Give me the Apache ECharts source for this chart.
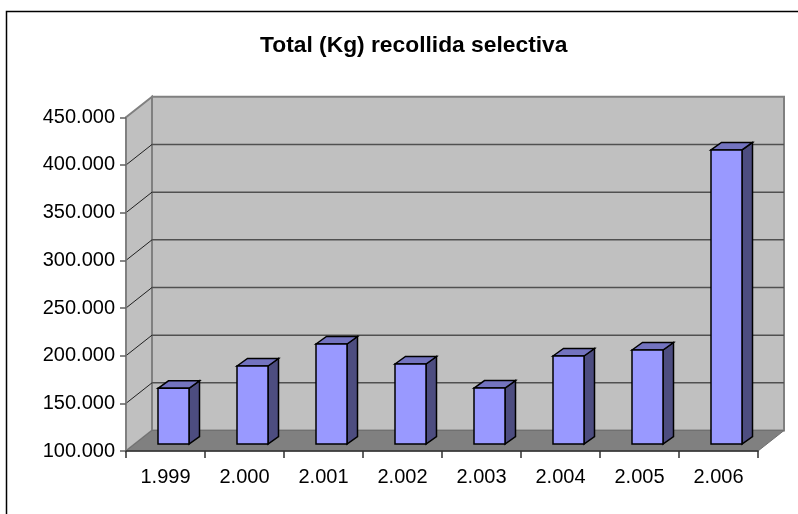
<!DOCTYPE html>
<html><head><meta charset="utf-8">
<script src="https://cdn.jsdelivr.net/npm/echarts@6/dist/echarts.min.js"></script>
<style>html,body{margin:0;padding:0;background:#fff}#c{width:798px;height:514px}</style>
</head><body><div id="c"></div>
<script>
const categories = ['1.999','2.000','2.001','2.002','2.003','2.004','2.005','2.006'];
const values = [158400, 181800, 204900, 183900, 158700, 192300, 198600, 408400];
const yTicks = [100000,150000,200000,250000,300000,350000,400000,450000];
const titleText = 'Total (Kg) recollida selectiva';

const WALL_DX = 26, WALL_DY = -20.5;
const BAR_DX = 8, BAR_DY = -7, BAR_W = 31, BAR_DEPTH_X = 10.5, BAR_DEPTH_Y = -7.5;
const FONT = 'Liberation Sans, Arial, sans-serif';

function fmt(v){ return String(v).replace(/\B(?=(\d{3})+(?!\d))/g,'.'); }

const chart = echarts.init(document.getElementById('c'), null, {renderer:'canvas'});
chart.setOption({
  animation:false,
  backgroundColor:'#ffffff',
  title:{
    text:titleText, left:255, top:29.5,
    textStyle:{fontFamily:FONT, fontSize:22.8, fontWeight:'bold', color:'#000'}
  },
  graphic:[{
    type:'rect', silent:true, z:-10,
    shape:{x:6.5, y:11.5, width:900, height:700},
    style:{fill:null, stroke:'#000', lineWidth:1.5}
  }],
  grid:{left:126, right:40, top:117.3, bottom:63, containLabel:false},
  xAxis:{
    type:'category', data:categories,
    axisLine:{show:true, lineStyle:{color:'#303030', width:1.5}},
    axisTick:{show:true, length:7, lineStyle:{color:'#303030', width:1.5}},
    axisLabel:{fontFamily:FONT, fontSize:20, color:'#000', margin:16},
    splitLine:{show:false}, z:5
  },
  yAxis:{
    type:'value', min:yTicks[0], max:yTicks[yTicks.length-1], interval:50000,
    axisLine:{show:true, lineStyle:{color:'#808080', width:1.5}},
    axisTick:{show:true, length:6, lineStyle:{color:'#606060', width:1.5}},
    axisLabel:{fontFamily:FONT, fontSize:20, color:'#000', margin:11, formatter:fmt},
    splitLine:{show:false}, z:5
  },
  series:[
    {
      type:'custom', name:'walls', z:1, clip:false, silent:true,
      data:[[0, yTicks[0]]],
      renderItem:function(params, api){
        const cs = params.coordSys;
        const x0 = cs.x, x1 = cs.x + cs.width;
        const yb = api.coord([0, yTicks[0]])[1];
        const yt = api.coord([0, yTicks[yTicks.length-1]])[1];
        const ch = [];
        ch.push({type:'rect', shape:{x:x0+WALL_DX, y:yt+WALL_DY, width:x1-x0, height:yb-yt},
          style:{fill:'#c0c0c0', stroke:'#808080', lineWidth:2}});
        ch.push({type:'polygon', shape:{points:[[x0,yt],[x0+WALL_DX,yt+WALL_DY],[x0+WALL_DX,yb+WALL_DY],[x0,yb]]},
          style:{fill:'#c0c0c0', stroke:'#808080', lineWidth:2}});
        for (let k=1;k<yTicks.length-1;k++){
          const y = api.coord([0, yTicks[k]])[1];
          ch.push({type:'line', shape:{x1:x0+WALL_DX, y1:y+WALL_DY, x2:x1+WALL_DX, y2:y+WALL_DY},
            style:{stroke:'#505050', lineWidth:1.5}});
          ch.push({type:'line', shape:{x1:x0, y1:y, x2:x0+WALL_DX, y2:y+WALL_DY},
            style:{stroke:'#202020', lineWidth:1}});
        }
        ch.push({type:'polygon', shape:{points:[[x0,yb],[x0+WALL_DX,yb+WALL_DY],[x1+WALL_DX,yb+WALL_DY],[x1,yb]]},
          style:{fill:'#808080', stroke:'#707070', lineWidth:1}});
        return {type:'group', children:ch};
      }
    },
    {
      type:'custom', name:'Total (Kg)', z:3, clip:false,
      data:values.map((v,i)=>[i,v]),
      renderItem:function(params, api){
        const i = api.value(0), v = api.value(1);
        const top = api.coord([i, v]);
        const base = api.coord([i, yTicks[0]]);
        const xl = top[0] + BAR_DX - BAR_W/2, xr = xl + BAR_W;
        const yt = top[1] + BAR_DY, yb = base[1] + BAR_DY;
        const dx = BAR_DEPTH_X, dy = BAR_DEPTH_Y;
        const st = {stroke:'#000', lineWidth:1.5, lineJoin:'miter'};
        return {type:'group', children:[
          {type:'polygon', shape:{points:[[xr,yt],[xr+dx,yt+dy],[xr+dx,yb+dy],[xr,yb]]},
            style:Object.assign({fill:'#4d4d80'}, st)},
          {type:'polygon', shape:{points:[[xl,yt],[xl+dx,yt+dy],[xr+dx,yt+dy],[xr,yt]]},
            style:Object.assign({fill:'#7373bf'}, st)},
          {type:'rect', shape:{x:xl, y:yt, width:BAR_W, height:yb-yt},
            style:Object.assign({fill:'#9999ff'}, st)}
        ]};
      }
    }
  ]
});
</script></body></html>
